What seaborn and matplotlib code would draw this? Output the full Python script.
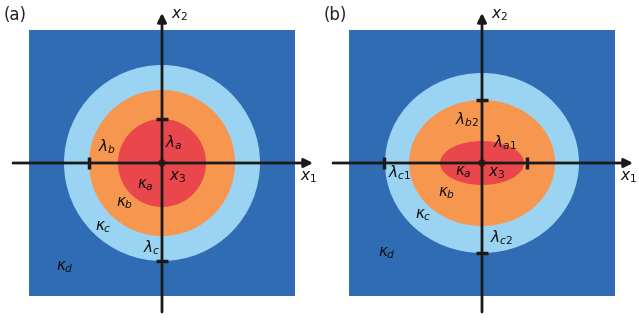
import numpy as np
import seaborn as sns
import matplotlib.pyplot as plt
from matplotlib.patches import Rectangle, Ellipse

sns.set_theme(style="white")
plt.rcParams['mathtext.fontset'] = 'dejavusans'

# region extents (half-widths / half-heights), inner -> outer: a, b, c
panel_names = ['(a)', '(b)']
radii_x = {'(a)': [44, 73, 98], '(b)': [42, 73, 97]}
radii_y = {'(a)': [44, 73, 98], '(b)': [22, 63, 90]}
region_colors = ['#e9474c', '#f7974f', '#9bd3f2']
background_color = '#2f6cb3'

# interface markers on the axes: (dx, dy) from the origin
markers = {
    '(a)': [(0, -44), (-73, 0), (0, 98)],
    '(b)': [(45, 0), (0, -63), (-98, 0), (0, 90)],
}

# labels: text and offset from the origin
labels = {
    '(a)': [(r'$\lambda_b$', -55, -16), (r'$\lambda_a$', 12, -20),
            (r'$\kappa_a$', -17, 22), (r'$x_3$', 16, 14),
            (r'$\kappa_b$', -37, 40), (r'$\kappa_c$', -59, 64),
            (r'$\lambda_c$', -10, 85), (r'$\kappa_d$', -97, 104)],
    '(b)': [(r'$\lambda_{b2}$', -15, -43), (r'$\lambda_{a1}$', 23, -20),
            (r'$\kappa_a$', -19, 9), (r'$x_3$', 15, 10),
            (r'$\lambda_{c1}$', -82, 10), (r'$\kappa_b$', -35, 30),
            (r'$\kappa_c$', -59, 52), (r'$\lambda_{c2}$', 20, 75),
            (r'$\kappa_d$', -95, 90)],
}

centers = [(162, 163), (482, 163)]
half = 133

fig = plt.figure(figsize=(6.39, 3.2), dpi=100)
ax = fig.add_axes([0, 0, 1, 1])
ax.set_xlim(0, 639)
ax.set_ylim(320, 0)
ax.axis('off')

for name, (cx, cy) in zip(panel_names, centers):
    ax.add_patch(Rectangle((cx - half, cy - half), 2 * half, 2 * half,
                           color=background_color, lw=0))
    for rx, ry, col in reversed(list(zip(radii_x[name], radii_y[name], region_colors))):
        ax.add_patch(Ellipse((cx, cy), 2 * rx, 2 * ry, color=col, lw=0))

    # axes with arrows
    ax.annotate('', xy=(cx + 151, cy), xytext=(cx - 149, cy),
                arrowprops=dict(arrowstyle='-|>', lw=2, color='k',
                                mutation_scale=13, shrinkA=0, shrinkB=0))
    ax.annotate('', xy=(cx, cy - 150), xytext=(cx, cy + 149),
                arrowprops=dict(arrowstyle='-|>', lw=2, color='k',
                                mutation_scale=13, shrinkA=0, shrinkB=0))

    for dx, dy in markers[name]:
        if dx == 0:
            ax.plot([cx - 6, cx + 6], [cy + dy, cy + dy], color='k', lw=2.5,
                    solid_capstyle='butt')
        else:
            ax.plot([cx + dx, cx + dx], [cy - 6, cy + 6], color='k', lw=2.5,
                    solid_capstyle='butt')

    ax.add_patch(Ellipse((cx, cy), 6, 6, facecolor='#d8262c',
                         edgecolor='#5a1010', lw=1))

    for txt, dx, dy in labels[name]:
        ax.text(cx + dx, cy + dy, txt, fontsize=11, color='#111111',
                ha='center', va='center')

    ax.text(cx - 147, 15, name, fontsize=12, color='#222222',
            ha='center', va='center')
    ax.text(cx + 18, 15, r'$x_2$', fontsize=11, color='#111111',
            ha='center', va='center')
    ax.text(cx + 147, cy + 14, r'$x_1$', fontsize=11, color='#111111',
            ha='center', va='center')

fig.savefig('out.png', dpi=100)
